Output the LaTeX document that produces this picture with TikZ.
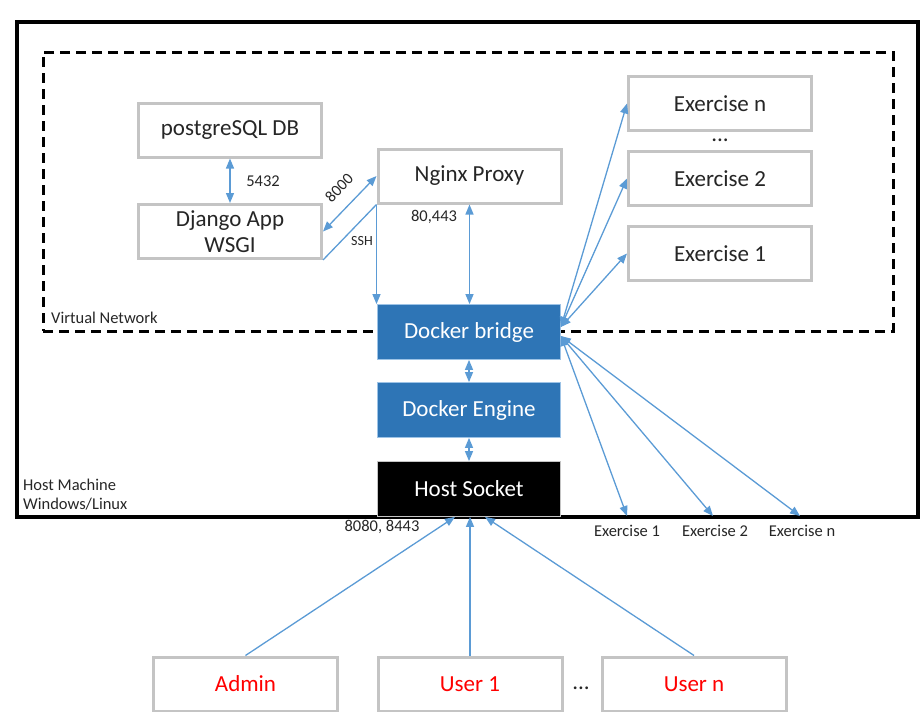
\documentclass[tikz,border=0pt]{standalone}
\usepackage{fontspec}
\setmainfont{Carlito}
\usetikzlibrary{arrows.meta}
\definecolor{boxgray}{HTML}{C4C4C4}
\definecolor{dockblue}{HTML}{2E75B6}
\definecolor{dockedge}{HTML}{9DC3E6}
\definecolor{arrblue}{HTML}{5B9BD5}
\definecolor{txt}{HTML}{262626}
\definecolor{usered}{HTML}{FF0000}
\begin{document}
\begin{tikzpicture}[x=1pt,y=-1pt,
  gbox/.style={draw=boxgray,line width=3pt,fill=white,inner sep=0pt,text=txt,
    font=\fontsize{23}{26}\selectfont,align=center,minimum width=183pt,minimum height=54pt},
  bbox/.style={draw=dockedge,line width=0.8pt,fill=dockblue,inner sep=0pt,text=white,
    font=\fontsize{23}{26}\selectfont,minimum width=183pt,minimum height=55pt},
  kbox/.style={draw=boxgray,line width=0.8pt,fill=black,inner sep=0pt,text=white,
    font=\fontsize{23}{26}\selectfont,minimum width=183pt,minimum height=55pt},
  ubox/.style={gbox,text=usered,minimum width=184pt},
  lbl/.style={font=\fontsize{16.5}{19}\selectfont,text=txt,inner sep=0pt},
  slbl/.style={font=\fontsize{14}{16}\selectfont,text=txt,inner sep=0pt},
  conn/.style={draw=arrblue,line width=1.3pt,>={Triangle[length=10pt,width=8pt]}},
  hostframe/.style={draw=black,line width=3.5pt,inner sep=0pt},
  vnet/.style={draw=black,line width=3pt,dash pattern=on 10pt off 6pt,inner sep=0pt}
]
\useasboundingbox (0,0) rectangle (921,712);
% containers
\node[hostframe,minimum width=901pt,minimum height=495pt] (host) at (467.5,269.5) {};
\node[vnet,minimum width=850pt,minimum height=279pt] (vnetbox) at (468,191.5) {};
\node[lbl,anchor=west] (vnl) at (51,318) {Virtual Network};
\node[lbl,anchor=west,align=left] (hml) at (23,495) {Host Machine\\Windows/Linux};
% boxes
\node[gbox] (pg) at (230,130) {postgreSQL DB};
\node[gbox] (dj) at (230,231.5) {Django App\\WSGI};
\node[gbox] (ng) at (469.5,176) {Nginx Proxy};
\node[gbox] (exn) at (720,103.5) {Exercise n};
\node[gbox] (ex2) at (720,178.5) {Exercise 2};
\node[gbox] (ex1) at (720,253.5) {Exercise 1};
\node[font=\fontsize{23}{26}\selectfont,text=txt,inner sep=0pt] (dots1) at (720,140) {...};
\node[bbox] (br) at (469,332) {Docker bridge};
\node[bbox] (en) at (469,410) {Docker Engine};
\node[kbox] (hs) at (469,489) {Host Socket};
\node[ubox] (ad) at (245.5,684) {Admin};
\node[ubox] (u1) at (470,684) {User 1};
\node[ubox] (un) at (694,684) {User n};
\node[font=\fontsize{23}{26}\selectfont,text=txt,inner sep=0pt] (dots2) at (581,688) {...};
% bottom exercise labels
\node[lbl] (e1l) at (627,531) {Exercise 1};
\node[lbl] (e2l) at (715,531) {Exercise 2};
\node[lbl] (enl) at (802,531) {Exercise n};
\coordinate (e1t) at (627,516);
\coordinate (e2t) at (713,516);
\coordinate (ent) at (800,516);
% port labels
\node[lbl] (p5432) at (263,181) {5432};
\node[lbl] (p80) at (434,217) {80,443};
\node[lbl] (p8080) at (382,527) {8080, 8443};
\node[slbl] (ssh) at (362,241) {SSH};
\node[slbl,font=\fontsize{16}{18}\selectfont,rotate=46] (p8000) at (339,188) {8000};
% connectors
\draw[conn,<->] (pg.south) -- (dj.north);
\draw[conn,<->] (dj.east) -- (ng.west);
\draw[conn] (ng.south west) -- (dj.south east);
\draw[conn,->] (ng.south west) -- (ng.south west |- br.north);
\draw[conn,<->] (ng.south) -- (ng.south |- br.north);
\draw[conn,<->] (br.south) -- (en.north);
\draw[conn,<->] (en.south) -- (hs.north);
\coordinate (bu) at ([yshift=5pt]br.east);
\coordinate (bd) at ([yshift=-4pt]br.east);
\draw[conn,<->] (bu) -- (exn.west);
\draw[conn,<->] (bu) -- (ex2.west);
\draw[conn,<->] (bu) -- (ex1.west);
\draw[conn,<->] (bd) -- (e1t);
\draw[conn,<->] (bd) -- (e2t);
\draw[conn,<->] (bd) -- (ent);
\draw[conn,->] (ad.north) -- ([xshift=-14pt]hs.south);
\draw[conn,->] (u1.north) -- (u1.north |- hs.south);
\draw[conn,->] (un.north) -- ([xshift=16pt]hs.south);
\end{tikzpicture}
\end{document}
